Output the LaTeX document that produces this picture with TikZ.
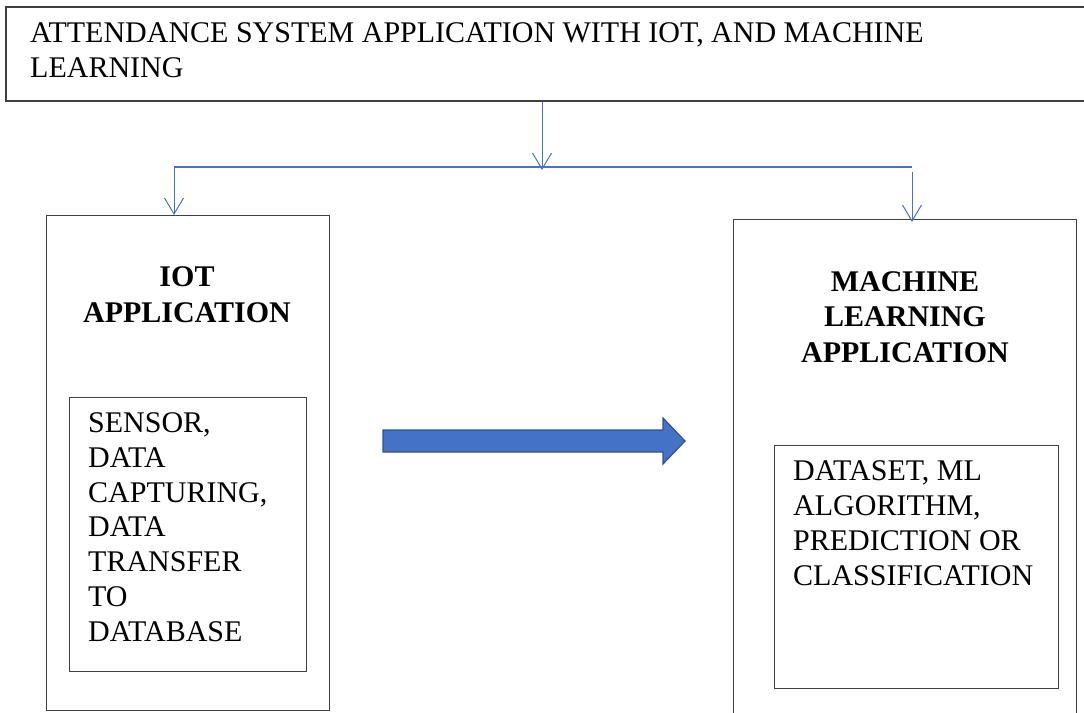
\documentclass[tikz,border=0pt]{standalone}
\usepackage{fontspec}
\setmainfont{Liberation Serif}
\usetikzlibrary{arrows.meta,positioning}
\definecolor{msblue}{HTML}{4472C4}
\definecolor{msdark}{HTML}{2F528F}
\definecolor{edgegray}{HTML}{404040}

\begin{document}
\begin{tikzpicture}[x=1pt,y=-1pt,
  box/.style={draw=edgegray,line width=1.4pt,inner sep=0pt,anchor=north west},
  txt/.style={inner sep=0pt,font=\fontsize{30}{34.7}\selectfont},
  head/.style={inner sep=0pt,font=\fontsize{30}{35.2}\selectfont\bfseries,align=center,anchor=base},
  conn/.style={draw=msblue,line width=1pt,-{Straight Barb[length=16pt,width=19pt]}},
  bus/.style={draw=msblue,line width=2.2pt}]
  \useasboundingbox (0,0) rectangle (1084,712);
  \clip (0,0) rectangle (1084,712);

  % boxes
  \node[box,minimum width=1090pt,minimum height=94pt,line width=1.8pt] (top) at (5,6) {};
  \node[box,minimum width=283pt,minimum height=495pt] (iot) at (46,215) {};
  \node[box,minimum width=237pt,minimum height=274pt] (iotin) at (69,397) {};
  \node[box,minimum width=343pt,minimum height=510pt] (ml) at (733,219) {};
  \node[box,minimum width=284pt,minimum height=243pt] (mlin) at (774,445) {};

  % texts (anchored at the baseline of the last line)
  \node[txt,anchor=base west,align=left] (title) at (30,77)
    {ATTENDANCE SYSTEM APPLICATION WITH IOT, AND MACHINE\\LEARNING};
  \node[head] (iothead) at (187,322) {IOT\\APPLICATION};
  \node[head] (mlhead) at (905,362) {MACHINE\\LEARNING\\APPLICATION};
  \node[txt,anchor=base west,align=left] (iottext) at (88,641)
    {SENSOR,\\DATA\\CAPTURING,\\DATA\\TRANSFER\\TO\\DATABASE};
  \node[txt,anchor=base west,align=left] (mltext) at (793,585)
    {DATASET, ML\\ALGORITHM,\\PREDICTION OR\\CLASSIFICATION};

  % connectors
  \coordinate (split) at (542,170);
  \coordinate (busL) at (174,167);
  \coordinate (busR) at (912,167);
  \coordinate (busRdrop) at (912,172);
  \draw[conn] (top.south -| split) -- (split);
  \draw[bus] (busL) -- (busR);
  \draw[conn] (busL) -- (busL |- iot.north);
  \draw[conn] (busRdrop) -- ([yshift=-3pt]busR |- ml.north);

  % block arrow
  \draw[fill=msblue,draw=msdark,line width=1.2pt,line join=miter]
    (383,430) -- (663,430) -- (663,418) -- (685,441) -- (663,464)
    -- (663,452) -- (383,452) -- cycle;
\end{tikzpicture}
\end{document}
